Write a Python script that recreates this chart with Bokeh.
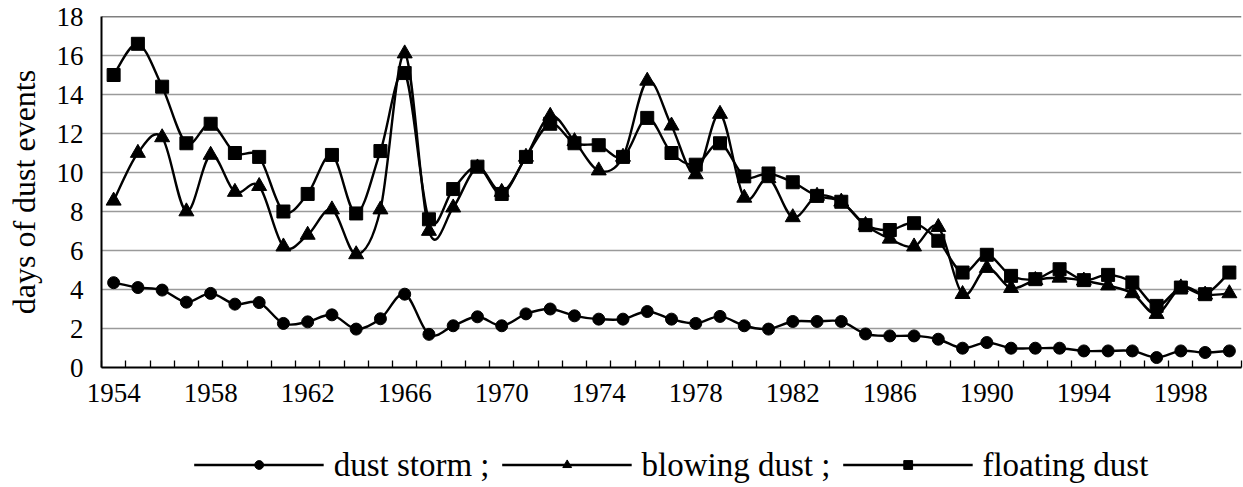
import numpy as np
from bokeh.plotting import figure
from bokeh.layouts import column
from bokeh.models import FixedTicker, Range1d, Span, Legend, LegendItem
from bokeh.embed import file_html
from bokeh.resources import INLINE

# ---------------- data ----------------
years = list(range(1954, 2001))

dust_storm = [4.35, 4.1, 3.97, 3.35, 3.8, 3.25, 3.33, 2.26, 2.34, 2.7, 1.97, 2.5, 3.76,
              1.7, 2.14, 2.6, 2.14, 2.75, 3.0, 2.65, 2.48, 2.48, 2.87, 2.48, 2.26, 2.62,
              2.14, 1.97, 2.36, 2.36,
              2.36, 1.72, 1.62, 1.62, 1.45, 0.99, 1.28, 0.99, 0.99, 0.99, 0.85, 0.85,
              0.85, 0.51, 0.85, 0.77, 0.85]

blowing_dust = [8.55, 11.0, 11.8, 8.0, 10.9, 9.0, 9.3, 6.2, 6.8, 8.1, 5.8, 8.1, 16.1,
                7.0, 8.2, 10.25, 9.0, 10.8, 12.9, 11.6, 10.1, 10.8, 14.7, 12.4, 9.9, 13.0,
                8.7, 9.7, 7.7, 8.8,
                8.5, 7.3, 6.6, 6.2, 7.2, 3.76, 5.1, 4.07, 4.48, 4.6, 4.45, 4.2, 3.8,
                2.74, 4.1, 3.73, 3.8]

floating_dust = [15.0, 16.6, 14.4, 11.5, 12.5, 11.0, 10.8, 8.0, 8.9, 10.9, 7.9, 11.1, 15.1,
                 7.6, 9.15, 10.3, 8.9, 10.8, 12.5, 11.5, 11.4, 10.8, 12.8, 11.0, 10.4, 11.5,
                 9.8, 9.95, 9.5, 8.8,
                 8.5, 7.3, 7.05, 7.4, 6.5, 4.87, 5.78, 4.7, 4.53, 5.04, 4.48, 4.75, 4.36,
                 3.16, 4.1, 3.76, 4.87]

x_tick_years = [1954, 1958, 1962, 1966, 1970, 1974, 1978, 1982, 1986, 1990, 1994, 1998]
y_ticks = [0, 2, 4, 6, 8, 10, 12, 14, 16, 18]

series_labels = ["dust storm ;", "blowing dust ;", "floating dust"]

FONT = "Liberation Serif"


def smooth_segments(xs, ys):
    """Bezier control points (Catmull-Rom style smoothing) for the data points."""
    x = np.asarray(xs, float)
    y = np.asarray(ys, float)
    xp = np.concatenate([[x[0]], x, [x[-1]]])
    yp = np.concatenate([[y[0]], y, [y[-1]]])
    n = len(x)
    return dict(
        x0=x[:-1], y0=y[:-1], x1=x[1:], y1=y[1:],
        cx0=x[:-1] + (x[1:] - xp[:n - 1]) / 6.0,
        cy0=y[:-1] + (y[1:] - yp[:n - 1]) / 6.0,
        cx1=x[1:] - (xp[3:] - x[:-1]) / 6.0,
        cy1=y[1:] - (yp[3:] - y[:-1]) / 6.0,
    )


series = [
    (dust_storm, "circle", 12, series_labels[0]),
    (blowing_dust, "triangle", 15, series_labels[1]),
    (floating_dust, "square", 13, series_labels[2]),
]

# ---------------- main chart ----------------
p = figure(frame_width=1140, frame_height=351,
           x_range=Range1d(years[0] - 0.5, years[-1] + 0.5),
           y_range=Range1d(y_ticks[0], y_ticks[-1]),
           output_backend="svg", toolbar_location=None,
           min_border_left=101, min_border_right=2, min_border_top=16,
           min_border_bottom=53)

p.outline_line_color = None
p.background_fill_color = "white"
p.border_fill_color = "white"

p.xgrid.visible = False
p.ygrid.ticker = FixedTicker(ticks=y_ticks)
p.ygrid.grid_line_color = "#9a9a9a"
p.ygrid.grid_line_width = 1.4

p.add_layout(Span(location=y_ticks[-1], dimension="width",
                  line_color="black", line_width=1.6))

# x axis
p.xaxis.ticker = FixedTicker(ticks=x_tick_years,
                             minor_ticks=[yr - 0.5 for yr in years] + [years[-1] + 0.5])
p.xaxis.major_tick_line_color = None
p.xaxis.minor_tick_in = 7
p.xaxis.minor_tick_out = 0
p.xaxis.minor_tick_line_color = "black"
p.xaxis.minor_tick_line_width = 1.3
p.xaxis.axis_line_color = "black"
p.xaxis.axis_line_width = 2
p.xaxis.major_label_text_font = FONT
p.xaxis.major_label_text_font_size = "27px"
p.xaxis.major_label_text_color = "black"
p.xaxis.major_label_standoff = 10

# y axis
p.yaxis.ticker = FixedTicker(ticks=y_ticks)
p.yaxis.major_tick_in = 0
p.yaxis.major_tick_out = 0
p.yaxis.minor_tick_line_color = None
p.yaxis.axis_line_color = "black"
p.yaxis.axis_line_width = 2
p.yaxis.major_label_text_font = FONT
p.yaxis.major_label_text_font_size = "27px"
p.yaxis.major_label_text_color = "black"
p.yaxis.major_label_standoff = 18
p.yaxis.axis_label = "days of dust events"
p.yaxis.axis_label_text_font = FONT
p.yaxis.axis_label_text_font_size = "32px"
p.yaxis.axis_label_text_font_style = "normal"
p.yaxis.axis_label_text_color = "black"
p.yaxis.axis_label_standoff = 12

for vals, marker, msize, label in series:
    seg = smooth_segments(years, vals)
    p.bezier(x0=seg["x0"], y0=seg["y0"], x1=seg["x1"], y1=seg["y1"],
             cx0=seg["cx0"], cy0=seg["cy0"], cx1=seg["cx1"], cy1=seg["cy1"],
             line_color="black", line_width=2.4)
    p.scatter(x=years, y=vals, marker=marker, size=msize,
              fill_color="black", line_color="black")

# ---------------- legend strip (same series, legend only) ----------------
lg = figure(frame_width=1140, frame_height=45,
            x_range=Range1d(years[0] - 0.5, years[-1] + 0.5),
            y_range=Range1d(100, 101),
            output_backend="svg", toolbar_location=None,
            x_axis_location=None, y_axis_location=None,
            min_border_left=101, min_border_right=2, min_border_top=22,
            min_border_bottom=0)
lg.outline_line_color = None
lg.xgrid.visible = False
lg.ygrid.visible = False
lg.background_fill_color = "white"
lg.border_fill_color = "white"

items = []
for vals, marker, msize, label in series:
    ln = lg.line(x=years, y=vals, line_color="black", line_width=2.4)
    sc = lg.scatter(x=years, y=vals, marker=marker, size=msize,
                    fill_color="black", line_color="black")
    items.append(LegendItem(label=label, renderers=[ln, sc]))

legend = Legend(items=items, orientation="horizontal", location="center",
                glyph_width=130, glyph_height=22, label_standoff=10, spacing=12,
                label_text_font=FONT, label_text_font_size="33px",
                label_text_color="black", border_line_color=None,
                background_fill_alpha=0, padding=0, margin=0)
lg.add_layout(legend)

layout = column(p, lg, spacing=0)

open("out.html", "w").write(file_html(layout, INLINE))
